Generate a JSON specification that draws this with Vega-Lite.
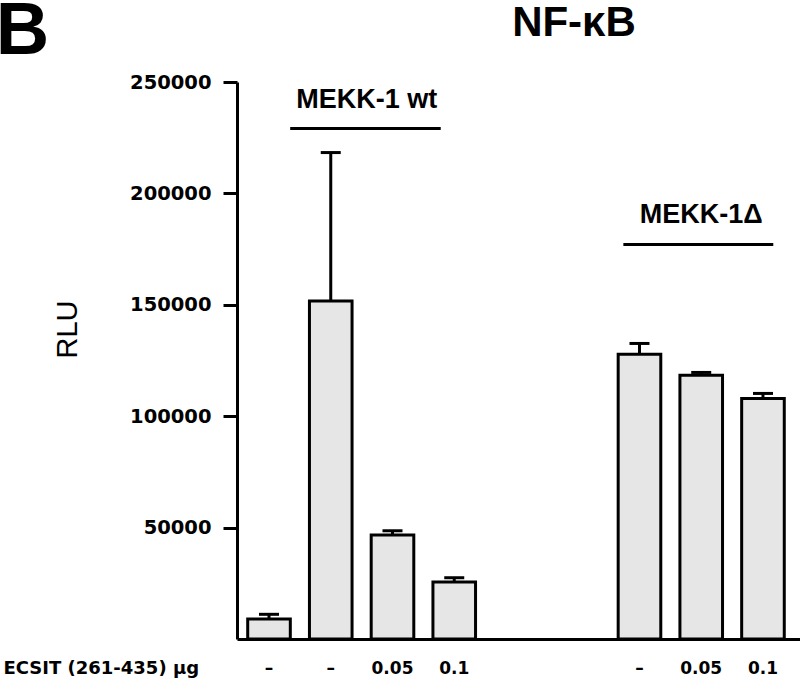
{
  "$schema": "https://vega.github.io/schema/vega-lite/v6.json",
  "autosize": "none",
  "width": 563,
  "height": 557,
  "padding": {"left": 237, "top": 82, "right": 0, "bottom": 43},
  "background": "white",
  "config": {"view": {"stroke": null}},
  "layer": [
    {
      "data": {"values": [
        {"slot": "1", "group": "MEKK-1 wt", "dose": "–", "rlu": 8970, "upper": 11080},
        {"slot": "2", "group": "MEKK-1 wt", "dose": "–", "rlu": 151760, "upper": 218330},
        {"slot": "3", "group": "MEKK-1 wt", "dose": "0.05", "rlu": 46650, "upper": 48580},
        {"slot": "4", "group": "MEKK-1 wt", "dose": "0.1", "rlu": 25570, "upper": 27500},
        {"slot": "7", "group": "MEKK-1Δ", "dose": "–", "rlu": 127850, "upper": 132650},
        {"slot": "8", "group": "MEKK-1Δ", "dose": "0.05", "rlu": 118430, "upper": 119640},
        {"slot": "9", "group": "MEKK-1Δ", "dose": "0.1", "rlu": 107980, "upper": 110220}
      ]},
      "encoding": {
        "x": {"field": "slot", "type": "ordinal",
          "scale": {"domain": ["1","2","3","4","5","6","7","8","9"], "paddingInner": 0.31, "paddingOuter": 0.214, "align": 0.405},
          "axis": {
            "title": "ECSIT (261-435) µg", "titleX": -234, "titleY": 29, "titleAlign": "left", "titleBaseline": "middle",
            "titleFont": "DejaVu Sans", "titleFontSize": 18, "titleFontWeight": "bold", "titleColor": "black",
            "labelExpr": "['–','–','0.05','0.1','','','–','0.05','0.1'][toNumber(datum.value)-1]",
            "labelAngle": 0, "labelFont": "DejaVu Sans", "labelFontWeight": "bold", "labelFontSize": 17, "labelColor": "black",
            "labelBaseline": "middle", "labelPadding": 29, "ticks": false, "tickSize": 0,
            "domainColor": "black", "domainWidth": 3
          }
        }
      },
      "layer": [
        {
          "mark": {"type": "bar", "fill": "#e6e6e6", "stroke": "black", "strokeWidth": 3},
          "encoding": {
            "y": {"field": "rlu", "type": "quantitative",
              "scale": {"domain": [0, 250000], "nice": false},
              "axis": {
                "values": [50000, 100000, 150000, 200000, 250000], "format": "d", "grid": false,
                "labelFont": "DejaVu Sans", "labelFontWeight": "bold", "labelFontSize": 19.5, "labelColor": "black", "labelPadding": 12,
                "tickColor": "black", "tickWidth": 3, "tickSize": 14, "domainColor": "black", "domainWidth": 3,
                "title": "RLU", "titleFont": "Liberation Sans", "titleFontWeight": "normal", "titleFontSize": 29, "titleColor": "black",
                "titleX": -170, "titleY": 247, "titleAngle": -90, "titleBaseline": "middle", "titleAlign": "center"
              }
            }
          }
        },
        {
          "mark": {"type": "rule", "stroke": "black", "strokeWidth": 3},
          "encoding": {"y": {"field": "rlu", "type": "quantitative"}, "y2": {"field": "upper"}}
        },
        {
          "mark": {"type": "tick", "color": "black", "size": 20, "thickness": 3, "opacity": 1},
          "encoding": {"y": {"field": "upper", "type": "quantitative"}}
        }
      ]
    },
    {
      "encoding": {
        "x": {"type": "quantitative", "scale": {"domain": [-0.522, 8.603], "nice": false, "zero": false}, "axis": null}
      },
      "layer": [
        {
          "data": {"values": [
            {"label": "MEKK-1 wt", "from": 0.34, "to": 2.78, "mid": 1.58, "lineAt": 229100, "textAt": 242100},
            {"label": "MEKK-1Δ", "from": 5.74, "to": 8.17, "mid": 7.0, "lineAt": 177100, "textAt": 190300}
          ]},
          "layer": [
            {
              "mark": {"type": "rule", "stroke": "black", "strokeWidth": 3},
              "encoding": {
                "x": {"field": "from", "type": "quantitative"},
                "x2": {"field": "to"},
                "y": {"field": "lineAt", "type": "quantitative"}
              }
            },
            {
              "mark": {"type": "text", "font": "Liberation Sans", "fontSize": 27, "fontWeight": "bold", "color": "black", "baseline": "middle", "align": "center"},
              "encoding": {
                "x": {"field": "mid", "type": "quantitative"},
                "y": {"field": "textAt", "type": "quantitative"},
                "text": {"field": "label"}
              }
            }
          ]
        },
        {
          "data": {"values": [{"heading": "NF-κB", "px": 4.94, "py": 276500}]},
          "mark": {"type": "text", "font": "Liberation Sans", "fontSize": 42, "fontWeight": "bold", "color": "black", "baseline": "middle", "align": "center"},
          "encoding": {
            "x": {"field": "px", "type": "quantitative"},
            "y": {"field": "py", "type": "quantitative"},
            "text": {"field": "heading"}
          }
        },
        {
          "data": {"values": [{"panel": "B", "px": -4.0, "py": 272300}]},
          "mark": {"type": "text", "font": "Liberation Sans", "fontSize": 74, "fontWeight": "bold", "color": "black", "baseline": "middle", "align": "center"},
          "encoding": {
            "x": {"field": "px", "type": "quantitative"},
            "y": {"field": "py", "type": "quantitative"},
            "text": {"field": "panel"}
          }
        }
      ]
    }
  ],
  "resolve": {"scale": {"x": "independent"}, "axis": {"x": "independent"}}
}
